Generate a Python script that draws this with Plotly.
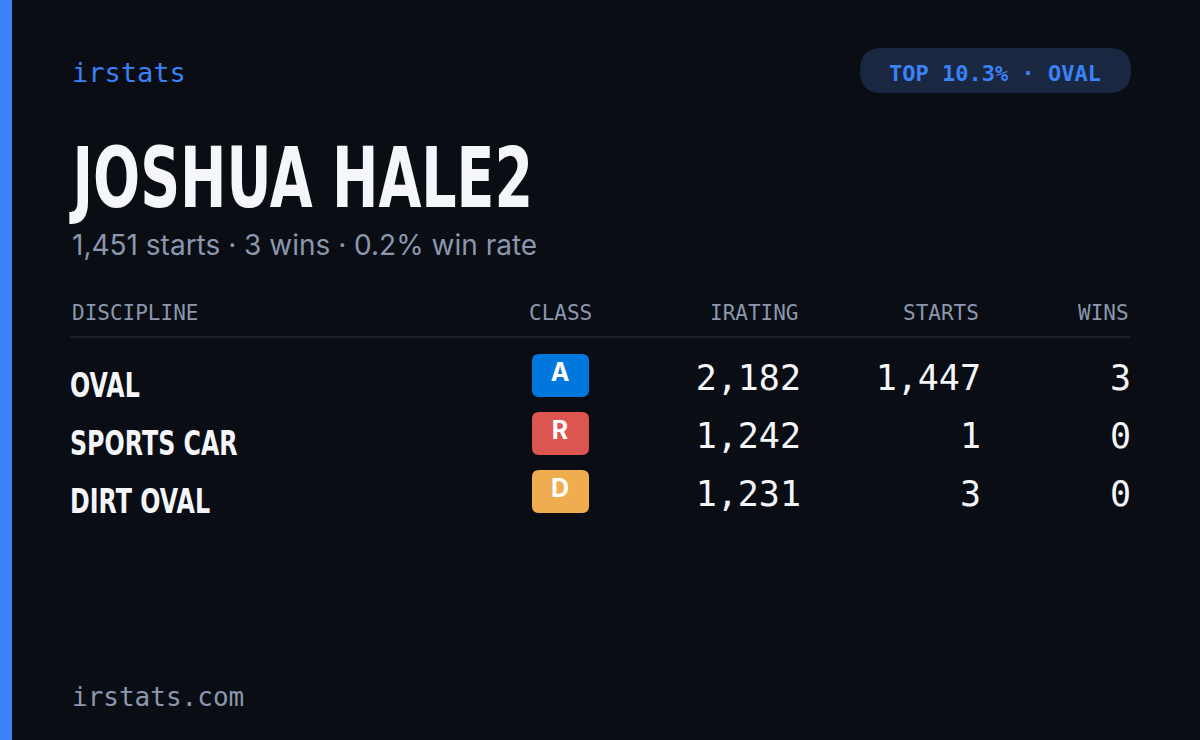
import plotly.graph_objects as go

disciplines = ["OVAL", "SPORTS CAR", "DIRT OVAL"]
classes = ["A", "R", "D"]
class_colors = ["#0077dd", "#dc5550", "#f0ad50"]
iratings = [2182, 1242, 1231]
starts = [1447, 1, 3]
wins = [3, 0, 0]
headers = ["DISCIPLINE", "CLASS", "IRATING", "STARTS", "WINS"]

name = "JOSHUA HALE2"
total_starts = 1451
total_wins = 3
win_rate = 0.2
badge = "TOP 10.3% · OVAL"

BG = "#0a0d14"
BLUE = "#3b82f6"
GRAY = "#8b97ad"
WHITE = "#f5f6fa"
MONO = "DejaVu Sans Mono, Liberation Mono, monospace"
COND = "DejaVu Sans, sans-serif"
SANS = "Inter, Noto Sans, sans-serif"


def rounded(x0, y0, x1, y1, r):
    # rounded rectangle path (y axis reversed, so y0 is top)
    return (f"M{x0+r},{y0} L{x1-r},{y0} Q{x1},{y0} {x1},{y0+r} L{x1},{y1-r} "
            f"Q{x1},{y1} {x1-r},{y1} L{x0+r},{y1} Q{x0},{y1} {x0},{y1-r} "
            f"L{x0},{y0+r} Q{x0},{y0} {x0+r},{y0} Z")


row_y = [380 + 58 * i for i in range(len(disciplines))]

fig = go.Figure()

fig.add_trace(go.Scatter(x=[70] * 3, y=[y + 9 for y in row_y], mode="text", text=disciplines,
                         textposition="middle right",
                         textfont=dict(family=COND, size=33, color=WHITE, weight="bold")))
fig.add_trace(go.Scatter(x=[560] * 3, y=[y - 5 for y in row_y], mode="text", text=classes,
                         textposition="middle center",
                         textfont=dict(family=SANS, size=25, color="white", weight="bold")))
for xr, vals in [(801, iratings), (981, starts), (1131, wins)]:
    fig.add_trace(go.Scatter(x=[xr] * 3, y=[y + 1 for y in row_y], mode="text",
                             text=[f"{v:,}" for v in vals], textposition="middle left",
                             textfont=dict(family=MONO, size=35, color=WHITE)))

shapes = [
    dict(type="rect", x0=0, x1=12, y0=0, y1=740, fillcolor=BLUE, line_width=0),
    dict(type="path", path=rounded(860, 48, 1131, 93, 22), fillcolor="#1a2741", line_width=0, layer="below"),
    dict(type="line", x0=70, x1=1131, y0=337, y1=337, line=dict(color="#1b1f2b", width=2)),
]
for y, c in zip(row_y, class_colors):
    shapes.append(dict(type="path", path=rounded(532, y - 26, 589, y + 17, 7),
                       fillcolor=c, line_width=0, layer="below"))

ann = [
    dict(x=70, y=72, text="irstats", xanchor="left", font=dict(family=MONO, size=27, color=BLUE)),
    dict(x=995, y=73, text=f"<b>{badge}</b>", xanchor="center", font=dict(family=MONO, size=22, color=BLUE)),
    dict(x=67, y=178, text=f"<b>{name}</b>", xanchor="left", font=dict(family=COND, size=84, color=WHITE)),
    dict(x=70, y=245, text=f"{total_starts:,} starts · {total_wins} wins · {win_rate}% win rate",
         xanchor="left", font=dict(family=SANS, size=28, color=GRAY)),
    dict(x=70, y=697, text="irstats.com", xanchor="left", font=dict(family=MONO, size=26, color=GRAY)),
]
hx = [(70, "left"), (560, "center"), (801, "right"), (981, "right"), (1131, "right")]
for (x, a), h in zip(hx, headers):
    ann.append(dict(x=x, y=313, text=h, xanchor=a, font=dict(family=MONO, size=21, color=GRAY)))
for a in ann:
    a.update(xref="x", yref="y", showarrow=False, yanchor="middle")

fig.update_layout(
    width=1200, height=740, margin=dict(l=0, r=0, t=0, b=0),
    paper_bgcolor=BG, plot_bgcolor=BG, showlegend=False,
    shapes=shapes, annotations=ann,
    xaxis=dict(range=[0, 1200], visible=False, fixedrange=True),
    yaxis=dict(range=[740, 0], visible=False, fixedrange=True),
)

# no condensed font installed: squeeze the bold display texts horizontally
js = """
document.body.style.margin='0';document.body.style.background='#0a0d14';
function squeeze(){
  document.querySelectorAll('text').forEach(function(t){
    var s = t.textContent;
    var k = null;
    if (s === %r) k = 0.66;
    if (%r.indexOf(s) >= 0) k = 0.72;
    if (k) {t.style.transformBox='fill-box';t.style.transformOrigin='left center';
            t.style.transform='scaleX('+k+')';}
  });
}
squeeze(); setTimeout(squeeze, 300);
""" % (name, disciplines)
fig.write_html("out.html", config={"displayModeBar": False}, post_script=js)
